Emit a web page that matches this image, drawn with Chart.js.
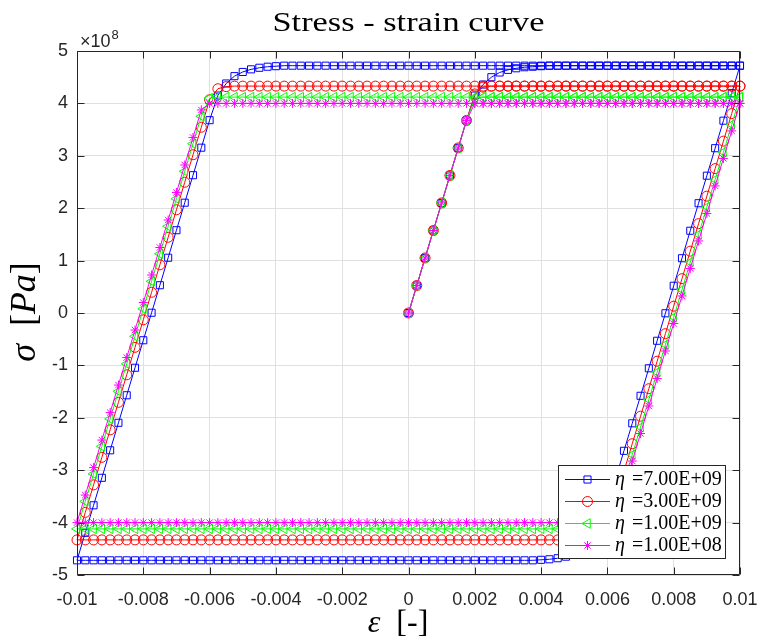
<!DOCTYPE html>
<html><head><meta charset="utf-8">
<script src="https://cdn.jsdelivr.net/npm/chart.js@4.4.0/dist/chart.umd.min.js"></script>
<style>html,body{margin:0;padding:0;background:#fff}canvas{display:block}</style>
</head><body>
<canvas id="c" width="758" height="642"></canvas>
<script>
// strain path: loading 0 -> 0.01, unloading 0.01 -> -0.01, reloading -0.01 -> 0.01
const strain = [
 0, 0.00025, 0.0005, 0.00075, 0.001, 0.00125, 0.0015, 0.00175, 0.002, 0.00225,
 0.0025, 0.00275, 0.003, 0.00325, 0.0035, 0.00375, 0.004, 0.00425, 0.0045, 0.00475,
 0.005, 0.00525, 0.0055, 0.00575, 0.006, 0.00625, 0.0065, 0.00675, 0.007, 0.00725,
 0.0075, 0.00775, 0.008, 0.00825, 0.0085, 0.00875, 0.009, 0.00925, 0.0095, 0.00975, 0.01,
 0.00975, 0.0095, 0.00925, 0.009, 0.00875, 0.0085, 0.00825, 0.008, 0.00775, 0.0075,
 0.00725, 0.007, 0.00675, 0.0065, 0.00625, 0.006, 0.00575, 0.0055, 0.00525, 0.005,
 0.00475, 0.0045, 0.00425, 0.004, 0.00375, 0.0035, 0.00325, 0.003, 0.00275, 0.0025,
 0.00225, 0.002, 0.00175, 0.0015, 0.00125, 0.001, 0.00075, 0.0005, 0.00025, 0,
 -0.00025, -0.0005, -0.00075, -0.001, -0.00125, -0.0015, -0.00175, -0.002, -0.00225, -0.0025,
 -0.00275, -0.003, -0.00325, -0.0035, -0.00375, -0.004, -0.00425, -0.0045, -0.00475, -0.005,
 -0.00525, -0.0055, -0.00575, -0.006, -0.00625, -0.0065, -0.00675, -0.007, -0.00725, -0.0075,
 -0.00775, -0.008, -0.00825, -0.0085, -0.00875, -0.009, -0.00925, -0.0095, -0.00975, -0.01,
 -0.00975, -0.0095, -0.00925, -0.009, -0.00875, -0.0085, -0.00825, -0.008, -0.00775, -0.0075,
 -0.00725, -0.007, -0.00675, -0.0065, -0.00625, -0.006, -0.00575, -0.0055, -0.00525, -0.005,
 -0.00475, -0.0045, -0.00425, -0.004, -0.00375, -0.0035, -0.00325, -0.003, -0.00275, -0.0025,
 -0.00225, -0.002, -0.00175, -0.0015, -0.00125, -0.001, -0.00075, -0.0005, -0.00025, 0,
 0.00025, 0.0005, 0.00075, 0.001, 0.00125, 0.0015, 0.00175, 0.002, 0.00225, 0.0025,
 0.00275, 0.003, 0.00325, 0.0035, 0.00375, 0.004, 0.00425, 0.0045, 0.00475, 0.005,
 0.00525, 0.0055, 0.00575, 0.006, 0.00625, 0.0065, 0.00675, 0.007, 0.00725, 0.0075,
 0.00775, 0.008, 0.00825, 0.0085, 0.00875, 0.009, 0.00925, 0.0095, 0.00975, 0.01
];

// stress in units of 1e8 Pa
const stressEta7e9 = [
 0, 0.525, 1.05, 1.575, 2.1, 2.625, 3.15, 3.675, 4.15, 4.36,
 4.5, 4.59, 4.64, 4.67, 4.69, 4.7, 4.71, 4.72, 4.72, 4.72,
 4.72, 4.72, 4.72, 4.72, 4.72, 4.72, 4.72, 4.72, 4.72, 4.72,
 4.72, 4.72, 4.72, 4.72, 4.72, 4.72, 4.72, 4.72, 4.72, 4.72, 4.72,
 4.195, 3.67, 3.145, 2.62, 2.095, 1.57, 1.045, 0.52, -0.005, -0.53,
 -1.055, -1.58, -2.105, -2.63, -3.155, -3.68, -4.15, -4.38, -4.52, -4.6,
 -4.65, -4.68, -4.7, -4.71, -4.72, -4.72, -4.72, -4.72, -4.72, -4.72,
 -4.72, -4.72, -4.72, -4.72, -4.72, -4.72, -4.72, -4.72, -4.72, -4.72,
 -4.72, -4.72, -4.72, -4.72, -4.72, -4.72, -4.72, -4.72, -4.72, -4.72,
 -4.72, -4.72, -4.72, -4.72, -4.72, -4.72, -4.72, -4.72, -4.72, -4.72,
 -4.72, -4.72, -4.72, -4.72, -4.72, -4.72, -4.72, -4.72, -4.72, -4.72,
 -4.72, -4.72, -4.72, -4.72, -4.72, -4.72, -4.72, -4.72, -4.72, -4.72,
 -4.195, -3.67, -3.145, -2.62, -2.095, -1.57, -1.045, -0.52, 0.005, 0.53,
 1.055, 1.58, 2.105, 2.63, 3.155, 3.68, 4.15, 4.38, 4.52, 4.6,
 4.65, 4.68, 4.7, 4.71, 4.72, 4.72, 4.72, 4.72, 4.72, 4.72,
 4.72, 4.72, 4.72, 4.72, 4.72, 4.72, 4.72, 4.72, 4.72, 4.72,
 4.72, 4.72, 4.72, 4.72, 4.72, 4.72, 4.72, 4.72, 4.72, 4.72,
 4.72, 4.72, 4.72, 4.72, 4.72, 4.72, 4.72, 4.72, 4.72, 4.72,
 4.72, 4.72, 4.72, 4.72, 4.72, 4.72, 4.72, 4.72, 4.72, 4.72,
 4.72, 4.72, 4.72, 4.72, 4.72, 4.72, 4.72, 4.72, 4.72, 4.72
];

const stressEta3e9 = [
 0, 0.525, 1.05, 1.575, 2.1, 2.625, 3.15, 3.675, 4.18, 4.31,
 4.33, 4.33, 4.33, 4.33, 4.33, 4.33, 4.33, 4.33, 4.33, 4.33,
 4.33, 4.33, 4.33, 4.33, 4.33, 4.33, 4.33, 4.33, 4.33, 4.33,
 4.33, 4.33, 4.33, 4.33, 4.33, 4.33, 4.33, 4.33, 4.33, 4.33, 4.33,
 3.805, 3.28, 2.755, 2.23, 1.705, 1.18, 0.655, 0.13, -0.395, -0.92,
 -1.445, -1.97, -2.495, -3.02, -3.545, -4.07, -4.28, -4.32, -4.33, -4.33,
 -4.33, -4.33, -4.33, -4.33, -4.33, -4.33, -4.33, -4.33, -4.33, -4.33,
 -4.33, -4.33, -4.33, -4.33, -4.33, -4.33, -4.33, -4.33, -4.33, -4.33,
 -4.33, -4.33, -4.33, -4.33, -4.33, -4.33, -4.33, -4.33, -4.33, -4.33,
 -4.33, -4.33, -4.33, -4.33, -4.33, -4.33, -4.33, -4.33, -4.33, -4.33,
 -4.33, -4.33, -4.33, -4.33, -4.33, -4.33, -4.33, -4.33, -4.33, -4.33,
 -4.33, -4.33, -4.33, -4.33, -4.33, -4.33, -4.33, -4.33, -4.33, -4.33,
 -3.805, -3.28, -2.755, -2.23, -1.705, -1.18, -0.655, -0.13, 0.395, 0.92,
 1.445, 1.97, 2.495, 3.02, 3.545, 4.07, 4.28, 4.32, 4.33, 4.33,
 4.33, 4.33, 4.33, 4.33, 4.33, 4.33, 4.33, 4.33, 4.33, 4.33,
 4.33, 4.33, 4.33, 4.33, 4.33, 4.33, 4.33, 4.33, 4.33, 4.33,
 4.33, 4.33, 4.33, 4.33, 4.33, 4.33, 4.33, 4.33, 4.33, 4.33,
 4.33, 4.33, 4.33, 4.33, 4.33, 4.33, 4.33, 4.33, 4.33, 4.33,
 4.33, 4.33, 4.33, 4.33, 4.33, 4.33, 4.33, 4.33, 4.33, 4.33,
 4.33, 4.33, 4.33, 4.33, 4.33, 4.33, 4.33, 4.33, 4.33, 4.33
];

const stressEta1e9 = [
 0, 0.525, 1.05, 1.575, 2.1, 2.625, 3.15, 3.675, 4.1, 4.12,
 4.12, 4.12, 4.12, 4.12, 4.12, 4.12, 4.12, 4.12, 4.12, 4.12,
 4.12, 4.12, 4.12, 4.12, 4.12, 4.12, 4.12, 4.12, 4.12, 4.12,
 4.12, 4.12, 4.12, 4.12, 4.12, 4.12, 4.12, 4.12, 4.12, 4.12, 4.12,
 3.595, 3.07, 2.545, 2.02, 1.495, 0.97, 0.445, -0.08, -0.605, -1.13,
 -1.655, -2.18, -2.705, -3.23, -3.755, -4.1, -4.12, -4.12, -4.12, -4.12,
 -4.12, -4.12, -4.12, -4.12, -4.12, -4.12, -4.12, -4.12, -4.12, -4.12,
 -4.12, -4.12, -4.12, -4.12, -4.12, -4.12, -4.12, -4.12, -4.12, -4.12,
 -4.12, -4.12, -4.12, -4.12, -4.12, -4.12, -4.12, -4.12, -4.12, -4.12,
 -4.12, -4.12, -4.12, -4.12, -4.12, -4.12, -4.12, -4.12, -4.12, -4.12,
 -4.12, -4.12, -4.12, -4.12, -4.12, -4.12, -4.12, -4.12, -4.12, -4.12,
 -4.12, -4.12, -4.12, -4.12, -4.12, -4.12, -4.12, -4.12, -4.12, -4.12,
 -3.595, -3.07, -2.545, -2.02, -1.495, -0.97, -0.445, 0.08, 0.605, 1.13,
 1.655, 2.18, 2.705, 3.23, 3.755, 4.1, 4.12, 4.12, 4.12, 4.12,
 4.12, 4.12, 4.12, 4.12, 4.12, 4.12, 4.12, 4.12, 4.12, 4.12,
 4.12, 4.12, 4.12, 4.12, 4.12, 4.12, 4.12, 4.12, 4.12, 4.12,
 4.12, 4.12, 4.12, 4.12, 4.12, 4.12, 4.12, 4.12, 4.12, 4.12,
 4.12, 4.12, 4.12, 4.12, 4.12, 4.12, 4.12, 4.12, 4.12, 4.12,
 4.12, 4.12, 4.12, 4.12, 4.12, 4.12, 4.12, 4.12, 4.12, 4.12,
 4.12, 4.12, 4.12, 4.12, 4.12, 4.12, 4.12, 4.12, 4.12, 4.12
];

const stressEta1e8 = [
 0, 0.525, 1.05, 1.575, 2.1, 2.625, 3.15, 3.675, 4, 4,
 4, 4, 4, 4, 4, 4, 4, 4, 4, 4,
 4, 4, 4, 4, 4, 4, 4, 4, 4, 4,
 4, 4, 4, 4, 4, 4, 4, 4, 4, 4, 4,
 3.475, 2.95, 2.425, 1.9, 1.375, 0.85, 0.325, -0.2, -0.725, -1.25,
 -1.775, -2.3, -2.825, -3.35, -3.875, -4, -4, -4, -4, -4,
 -4, -4, -4, -4, -4, -4, -4, -4, -4, -4,
 -4, -4, -4, -4, -4, -4, -4, -4, -4, -4,
 -4, -4, -4, -4, -4, -4, -4, -4, -4, -4,
 -4, -4, -4, -4, -4, -4, -4, -4, -4, -4,
 -4, -4, -4, -4, -4, -4, -4, -4, -4, -4,
 -4, -4, -4, -4, -4, -4, -4, -4, -4, -4,
 -3.475, -2.95, -2.425, -1.9, -1.375, -0.85, -0.325, 0.2, 0.725, 1.25,
 1.775, 2.3, 2.825, 3.35, 3.875, 4, 4, 4, 4, 4,
 4, 4, 4, 4, 4, 4, 4, 4, 4, 4,
 4, 4, 4, 4, 4, 4, 4, 4, 4, 4,
 4, 4, 4, 4, 4, 4, 4, 4, 4, 4,
 4, 4, 4, 4, 4, 4, 4, 4, 4, 4,
 4, 4, 4, 4, 4, 4, 4, 4, 4, 4,
 4, 4, 4, 4, 4, 4, 4, 4, 4, 4
];

const seriesLabels = ['=7.00E+09', '=3.00E+09', '=1.00E+09', '=1.00E+08'];
const xTickValues = [-0.01, -0.008, -0.006, -0.004, -0.002, 0, 0.002, 0.004, 0.006, 0.008, 0.01];
const xTickLabels = ['-0.01', '-0.008', '-0.006', '-0.004', '-0.002', '0', '0.002', '0.004', '0.006', '0.008', '0.01'];
const yTickValues = [-5, -4, -3, -2, -1, 0, 1, 2, 3, 4, 5];
const yTickLabels = ['-5', '-4', '-3', '-2', '-1', '0', '1', '2', '3', '4', '5'];

const allSeries = [stressEta7e9, stressEta3e9, stressEta1e9, stressEta1e8];
allSeries.forEach((s, k) => { if (s.length !== strain.length) throw new Error('series ' + k + ' length ' + s.length + ' vs ' + strain.length); });

const styles = [
  { color: '#0000ff', pointStyle: 'rect', radius: 5, rotation: 0, order: 4 },
  { color: '#ff0000', pointStyle: 'circle', radius: 5, rotation: 0, order: 3 },
  { color: '#00ff00', pointStyle: 'triangle', radius: 5.5, rotation: -90, order: 2 },
  { color: '#ff00ff', pointStyle: 'star', radius: 4.5, rotation: 0, order: 1 }
];

const datasets = allSeries.map((s, k) => ({
  label: seriesLabels[k],
  data: strain.map((e, i) => ({ x: e, y: s[i] })),
  showLine: true,
  borderColor: styles[k].color,
  backgroundColor: styles[k].color,
  borderWidth: 1,
  pointStyle: styles[k].pointStyle,
  pointRadius: styles[k].radius,
  pointRotation: styles[k].rotation,
  pointBorderColor: styles[k].color,
  pointBackgroundColor: 'rgba(0,0,0,0)',
  pointBorderWidth: 1,
  tension: 0,
  clip: false,
  order: styles[k].order
}));

const SANS = '"Liberation Sans", Arial, Helvetica, sans-serif';
const SERIF = '"Liberation Serif", "Times New Roman", serif';

function drawMarker(ctx, st, x, y) {
  const r = st.radius;
  ctx.beginPath();
  if (st.pointStyle === 'rect') {
    const s = r * Math.SQRT1_2; ctx.rect(x - s, y - s, 2 * s, 2 * s);
  } else if (st.pointStyle === 'circle') {
    ctx.arc(x, y, r, 0, 2 * Math.PI);
  } else if (st.pointStyle === 'triangle') {
    let rad = st.rotation * Math.PI / 180;
    for (let i = 0; i < 3; i++) {
      const px = x + Math.sin(rad) * r, py = y - Math.cos(rad) * r;
      if (i) ctx.lineTo(px, py); else ctx.moveTo(px, py);
      rad += 2 * Math.PI / 3;
    }
    ctx.closePath();
  } else {
    for (let k = 0; k < 4; k++) {
      const a = k * Math.PI / 4, dx = Math.cos(a) * r, dy = Math.sin(a) * r;
      ctx.moveTo(x - dx, y - dy); ctx.lineTo(x + dx, y + dy);
    }
  }
  ctx.stroke();
}

function drawPieces(ctx, pieces, cx, base) {
  let total = 0;
  pieces.forEach(p => { ctx.font = p.font; p.w = ctx.measureText(p.t).width; total += p.w; });
  let x = cx - total / 2;
  pieces.forEach(p => { ctx.font = p.font; ctx.fillText(p.t, x, base); x += p.w; });
}

const framePlugin = {
  id: 'frame',
  afterDraw(chart) {
    const { ctx, chartArea: a, scales } = chart;
    const xs = scales.x, ys = scales.y;
    ctx.save();
    const L = Math.round(a.left) + 0.5, R = Math.round(a.right) - 0.5;
    const T = Math.round(a.top) + 0.5, B = Math.round(a.bottom) - 0.5;
    ctx.strokeStyle = '#262626';
    ctx.lineWidth = 1;
    ctx.beginPath();
    ctx.rect(L, T, R - L, B - T);
    const tl = 7;
    xTickValues.forEach(v => {
      const px = Math.round(xs.getPixelForValue(v)) + 0.5;
      ctx.moveTo(px, B); ctx.lineTo(px, B - tl);
      ctx.moveTo(px, T); ctx.lineTo(px, T + tl);
    });
    yTickValues.forEach(v => {
      const py = Math.round(ys.getPixelForValue(v)) + 0.5;
      ctx.moveTo(L, py); ctx.lineTo(L + tl, py);
      ctx.moveTo(R, py); ctx.lineTo(R - tl, py);
    });
    ctx.stroke();

    // exponent
    ctx.fillStyle = '#262626';
    ctx.textBaseline = 'alphabetic';
    ctx.textAlign = 'left';
    ctx.font = '18px ' + SANS;
    ctx.fillText('\u00d710', a.left + 3, 47);
    const w10 = ctx.measureText('\u00d710').width;
    ctx.font = '13px ' + SANS;
    ctx.fillText('8', a.left + 3 + w10 + 1, 39);

    // title
    const cx = (a.left + a.right) / 2;
    ctx.fillStyle = '#000';
    ctx.font = '28px ' + SERIF;
    const title = 'Stress - strain curve';
    const tw = ctx.measureText(title).width;
    ctx.save();
    ctx.translate(cx, 31);
    ctx.scale(272 / tw, 1);
    ctx.textAlign = 'center';
    ctx.fillText(title, 0, 0);
    ctx.restore();

    // x label
    ctx.textAlign = 'left';
    drawPieces(ctx, [
      { t: '\u03b5', font: 'italic 32px ' + SERIF },
      { t: '  ', font: '32px ' + SERIF },
      { t: '[-]', font: '32px ' + SERIF }
    ], 398, 632);

    // y label
    ctx.save();
    ctx.translate(35, 312);
    ctx.rotate(-Math.PI / 2);
    drawPieces(ctx, [
      { t: '\u03c3', font: 'italic 36px ' + SERIF },
      { t: '  ', font: '36px ' + SERIF },
      { t: '[', font: '36px ' + SERIF },
      { t: 'Pa', font: 'italic 36px ' + SERIF },
      { t: ']', font: '36px ' + SERIF }
    ], 0, 0);
    ctx.restore();

    // legend
    const bx = 558.5, by = 465.5, bw = 167, bh = 93;
    ctx.fillStyle = '#fff';
    ctx.fillRect(bx, by, bw, bh);
    ctx.strokeStyle = '#262626';
    ctx.strokeRect(bx, by, bw, bh);
    styles.forEach((st, k) => {
      const ry = 479 + k * 22;
      ctx.strokeStyle = st.color;
      ctx.lineWidth = 1;
      ctx.beginPath();
      ctx.moveTo(565, ry + 0.5); ctx.lineTo(610, ry + 0.5);
      ctx.stroke();
      drawMarker(ctx, st, 587.5, ry + 0.5);
      ctx.fillStyle = '#000';
      ctx.textBaseline = 'middle';
      ctx.font = 'italic 20px ' + SERIF;
      ctx.fillText('\u03b7', 615, ry + 1);
      const ew = ctx.measureText('\u03b7 ').width;
      ctx.font = '20px ' + SERIF;
      ctx.fillText(seriesLabels[k], 615 + ew + 2, ry + 1);
    });
    ctx.restore();
  }
};

new Chart(document.getElementById('c'), {
  type: 'scatter',
  data: { datasets },
  options: {
    responsive: false,
    animation: false,
    devicePixelRatio: 1,
    layout: { padding: { top: 51, right: 18, left: 0, bottom: 0 } },
    plugins: { legend: { display: false }, title: { display: false }, tooltip: { enabled: false } },
    scales: {
      x: {
        type: 'linear', min: -0.01, max: 0.01,
        afterBuildTicks: s => { s.ticks = xTickValues.map(v => ({ value: v })); },
        afterFit: s => { s.height = 67; s.paddingLeft = 0; s.paddingRight = 0; },
        ticks: { callback: (v, i) => xTickLabels[i], font: { family: SANS, size: 18 }, color: '#262626', padding: 14, maxRotation: 0, autoSkip: false },
        grid: { color: '#e0e0e0', lineWidth: 1, drawTicks: false },
        border: { display: false }
      },
      y: {
        type: 'linear', min: -5, max: 5,
        afterBuildTicks: s => { s.ticks = yTickValues.map(v => ({ value: v })); },
        afterFit: s => { s.width = 77; s.paddingTop = 0; s.paddingBottom = 0; },
        ticks: { callback: (v, i) => yTickLabels[i], font: { family: SANS, size: 18 }, color: '#262626', padding: 9, autoSkip: false },
        grid: { color: '#e0e0e0', lineWidth: 1, drawTicks: false },
        border: { display: false }
      }
    }
  },
  plugins: [framePlugin]
});
</script>
</body></html>
